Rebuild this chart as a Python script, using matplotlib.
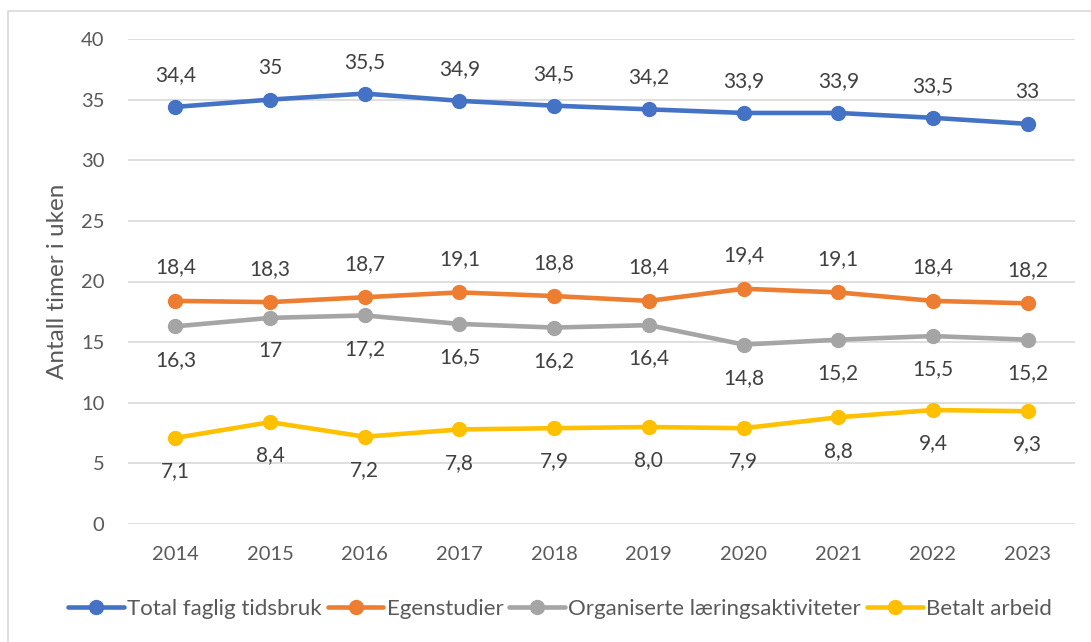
import matplotlib.pyplot as plt
from matplotlib.patches import Rectangle

plt.rcParams['font.family'] = ['Lato', 'DejaVu Sans']

years = ['2014', '2015', '2016', '2017', '2018', '2019', '2020', '2021', '2022', '2023']
total = [34.4, 35.0, 35.5, 34.9, 34.5, 34.2, 33.9, 33.9, 33.5, 33.0]
egen = [18.4, 18.3, 18.7, 19.1, 18.8, 18.4, 19.4, 19.1, 18.4, 18.2]
organ = [16.3, 17.0, 17.2, 16.5, 16.2, 16.4, 14.8, 15.2, 15.5, 15.2]
betalt = [7.1, 8.4, 7.2, 7.8, 7.9, 8.0, 7.9, 8.8, 9.4, 9.3]

names = ['Total faglig tidsbruk', 'Egenstudier', 'Organiserte læringsaktiviteter', 'Betalt arbeid']
colors = ['#4472C4', '#ED7D31', '#A5A5A5', '#FFC000']
text_c = '#595959'


def general(v):
    s = ('%.1f' % v).rstrip('0').rstrip('.')
    return s.replace('.', ',')


def onedec(v):
    return ('%.1f' % v).replace('.', ',')


series = [
    (total, general, 23),
    (egen, general, 24),
    (organ, general, -24),
    (betalt, onedec, -24),
]

fig = plt.figure(figsize=(10.91, 6.42), dpi=100)
fig.patches.append(Rectangle((7.5 / 1091, -0.1), 1.2, 1 - 10.5 / 642 + 0.1,
                             transform=fig.transFigure, fill=False,
                             edgecolor='#D9D9D9', linewidth=1.2))
ax = fig.add_axes([128 / 1091, 1 - 524 / 642, (1075 - 128) / 1091, (524 - 39) / 642])

x = range(len(years))
for (vals, fmt, off), name, c in zip(series, names, colors):
    ax.plot(x, vals, color=c, lw=3.3, marker='o', ms=10, label=name,
            solid_capstyle='round', zorder=3)
    for xi, v in zip(x, vals):
        ax.annotate(fmt(v), (xi, v), xytext=(0, off), textcoords='offset points',
                    ha='center', va='center', fontsize=15, color='#404040')

ax.set_xlim(-0.5, len(years) - 0.5)
ax.set_ylim(0, 40)
ax.set_yticks(range(0, 41, 5))
ax.set_xticks(list(x))
ax.set_xticklabels(years)
ax.grid(axis='y', color='#D9D9D9', lw=1.2)
ax.set_axisbelow(True)
for s in ax.spines.values():
    s.set_visible(False)
ax.tick_params(length=0, labelsize=14.5, colors=text_c)
ax.tick_params(axis='y', pad=17)
ax.tick_params(axis='x', pad=16)
ax.set_ylabel('Antall timer i uken', fontsize=17.5, color=text_c)
ax.yaxis.set_label_coords(-60 / 947, 0.5)

fig.legend(loc='center', bbox_to_anchor=(560 / 1091, 1 - 609 / 642), ncol=4,
           frameon=False, fontsize=16, handlelength=2.5, handletextpad=0.15,
           columnspacing=0.27, labelcolor=text_c)

plt.savefig('out.png')
plt.close()
